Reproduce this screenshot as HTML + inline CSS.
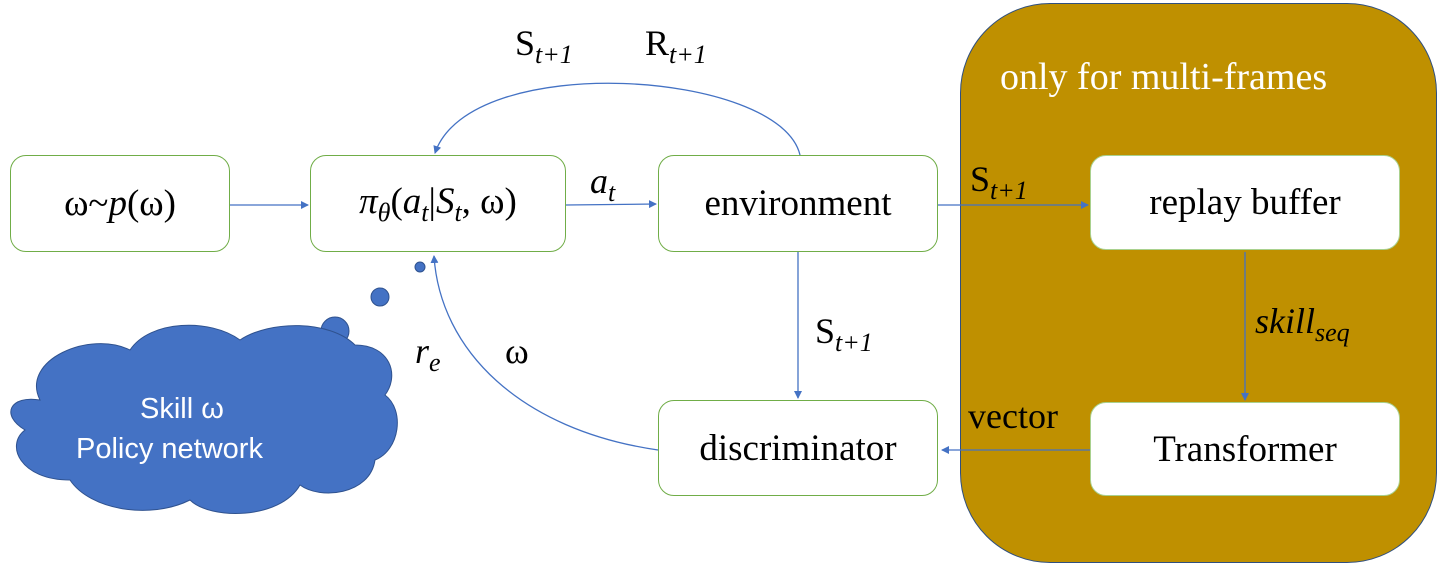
<!DOCTYPE html>
<html><head><meta charset="utf-8"><style>
body{margin:0;width:1440px;height:566px;background:#fff;overflow:hidden;position:relative;font-family:"Liberation Serif",serif}
.b{position:absolute;border:2px solid #70ad47;border-radius:16px;background:#fff;box-sizing:border-box;display:flex;align-items:center;justify-content:center;font-size:37px;color:#000}
.w{border:1.5px solid #70ad47}
.l{position:absolute;font-size:36px;color:#000;white-space:nowrap}
sub{font-size:26px;font-style:italic;vertical-align:-8px}
i{font-style:italic}
</style></head><body>
<div style="position:absolute;left:960px;top:3px;width:477px;height:560px;background:#bf9000;border:1.5px solid #2f4f7f;border-radius:90px;box-sizing:border-box"></div>
<div class="l" style="left:1000px;top:55px;color:#fff;font-size:38px">only for multi-frames</div>
<svg width="1440" height="566" style="position:absolute;left:0;top:0">
<defs><marker id="a" markerWidth="8" markerHeight="8" refX="7" refY="4" orient="auto" markerUnits="userSpaceOnUse"><path d="M0,0 L8,4 L0,8z" fill="#4472c4"/></marker></defs>
<g stroke="#4472c4" stroke-width="1.3" fill="none">
<line x1="230" y1="205" x2="308" y2="205" marker-end="url(#a)"/>
<line x1="566" y1="205" x2="656" y2="204" marker-end="url(#a)"/>
<line x1="938" y1="205" x2="1088" y2="205" marker-end="url(#a)"/>
<line x1="798" y1="252" x2="798" y2="398" marker-end="url(#a)"/>
<line x1="1090" y1="450" x2="942" y2="450" marker-end="url(#a)"/>
<line x1="1245" y1="252" x2="1245" y2="400" marker-end="url(#a)"/>
<path d="M658,450 C520,430 440,350 434,256" marker-end="url(#a)"/>
<path d="M800,155 C780,70 470,50 435,153" marker-end="url(#a)"/>
</g>
<g fill="#4472c4" stroke="#2f528f" stroke-width="1">
<circle cx="420" cy="267" r="5"/><circle cx="380" cy="297" r="9"/><circle cx="335" cy="331" r="14"/>
<path d="M40,400 C20,360 90,330 130,350 C150,320 210,318 240,340 C270,320 330,320 355,345 C390,345 400,375 385,395 C405,410 400,450 375,460 C370,495 320,500 300,485 C280,520 210,520 190,500 C150,520 90,510 70,480 C20,480 5,445 25,430 C0,415 10,395 40,400z"/>
</g>
</svg>
<div class="l" style="left:140px;top:393px;color:#fff;font-family:'Liberation Sans',sans-serif;font-size:29px">Skill ω</div>
<div class="l" style="left:76px;top:433px;color:#fff;font-family:'Liberation Sans',sans-serif;font-size:29px">Policy network</div>
<div class="b w" style="left:10px;top:155px;width:220px;height:97px">ω~<i>p</i>(ω)</div>
<div class="b w" style="left:310px;top:155px;width:256px;height:97px"><span><i>π</i><sub>θ</sub>(<i>a</i><sub>t</sub>|<i>S</i><sub>t</sub>, ω)</span></div>
<div class="b w" style="left:658px;top:155px;width:280px;height:97px">environment</div>
<div class="b w" style="left:658px;top:400px;width:280px;height:96px">discriminator</div>
<div class="b" style="left:1090px;top:155px;width:310px;height:95px;border-color:#a9d18e;border-width:1px">replay buffer</div>
<div class="b" style="left:1090px;top:402px;width:310px;height:94px;border-color:#a9d18e;border-width:1px">Transformer</div>
<div class="l" style="left:515px;top:22px">S<sub>t+1</sub></div>
<div class="l" style="left:645px;top:22px">R<sub>t+1</sub></div>
<div class="l" style="left:590px;top:160px"><i>a</i><sub>t</sub></div>
<div class="l" style="left:970px;top:158px">S<sub>t+1</sub></div>
<div class="l" style="left:815px;top:310px">S<sub>t+1</sub></div>
<div class="l" style="left:1255px;top:300px"><i>skill</i><sub>seq</sub></div>
<div class="l" style="left:968px;top:395px">vector</div>
<div class="l" style="left:415px;top:330px"><i>r</i><sub>e</sub></div>
<div class="l" style="left:505px;top:330px">ω</div>
</body></html>
